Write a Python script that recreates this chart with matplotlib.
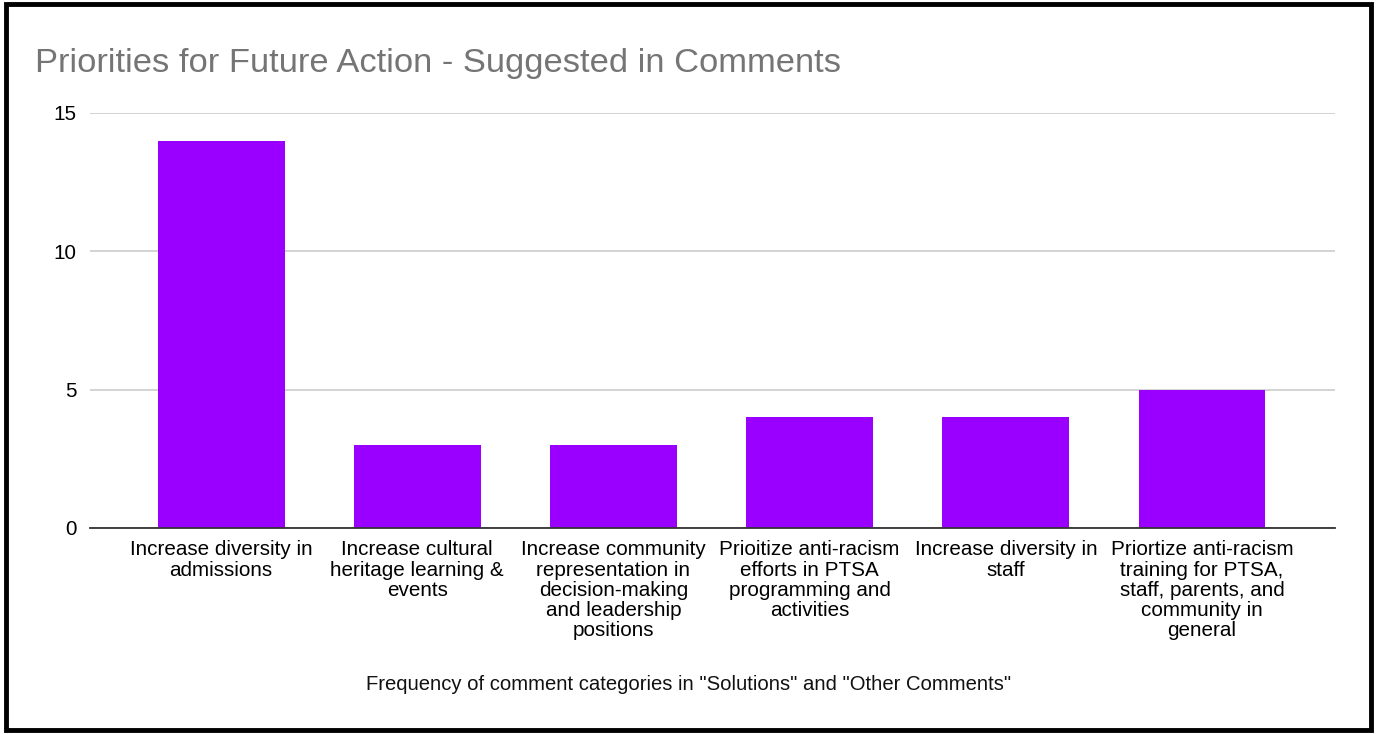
import matplotlib.pyplot as plt
from matplotlib.patches import Rectangle

categories = [
    "Increase diversity in\nadmissions",
    "Increase cultural\nheritage learning &\nevents",
    "Increase community\nrepresentation in\ndecision-making\nand leadership\npositions",
    "Prioitize anti-racism\nefforts in PTSA\nprogramming and\nactivities",
    "Increase diversity in\nstaff",
    "Priortize anti-racism\ntraining for PTSA,\nstaff, parents, and\ncommunity in\ngeneral",
]
counts = [14, 3, 3, 4, 4, 5]
yticks = [0, 5, 10, 15]

plt.rcParams['font.family'] = ['Liberation Sans', 'DejaVu Sans']

fig = plt.figure(figsize=(13.77, 7.34), dpi=100)
ax = fig.add_axes([0.0654, 0.2807, 0.9041, 0.5654])

x = list(range(len(categories)))
ax.bar(x, counts, width=0.647, color="#9900ff", zorder=3)

ax.set_xlim(-0.668, 5.678)
ax.set_ylim(0, 15)
ax.set_yticks(yticks)
ax.grid(axis="y", color="#cccccc", linewidth=1.2, zorder=0)
ax.set_axisbelow(True)
for s in ["top", "right", "left"]:
    ax.spines[s].set_visible(False)
ax.spines["bottom"].set_color("#333333")
ax.spines["bottom"].set_linewidth(1.3)
ax.spines["bottom"].set_zorder(4)

ax.set_xticks(x)
ax.set_xticklabels(categories, fontsize=14.9, linespacing=1.075, va="top")
ax.tick_params(axis="x", length=0, pad=9)
ax.tick_params(axis="y", length=0, pad=10, labelsize=14.9)

fig.text(0.0254, 0.914, "Priorities for Future Action - Suggested in Comments",
         fontsize=24.8, color="#757575", va="center", ha="left")
fig.text(0.5, 0.067, 'Frequency of comment categories in "Solutions" and "Other Comments"',
         fontsize=14.6, color="#111111", ha="center", va="center")

# black frame around the whole picture
fig.patches.append(Rectangle((0.004, 0.006), 0.992, 0.989, transform=fig.transFigure,
                             fill=False, edgecolor="black", linewidth=3.5))

fig.savefig("out.png", dpi=100)
